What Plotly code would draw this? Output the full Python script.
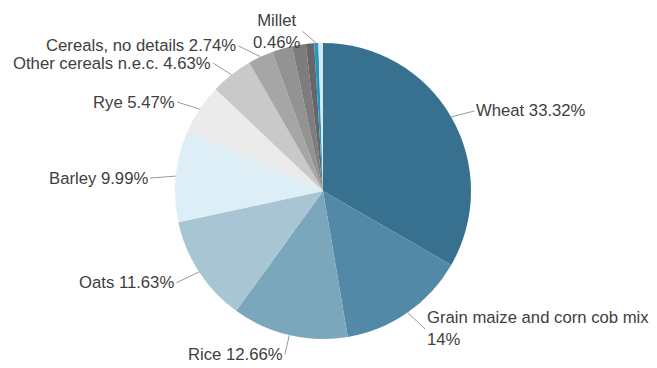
import math
import plotly.graph_objects as go

# slices, clockwise from 12 o'clock
labels = ["Wheat", "Grain maize and corn cob mix", "Rice", "Oats", "Barley", "Rye",
          "Other cereals n.e.c.", "Cereals, no details", "Triticale", "Mixed grain",
          "Sorghum", "Millet", "Buckwheat"]
values = [33.32, 14, 12.66, 11.63, 9.99, 5.47, 4.63, 2.74, 2.2, 1.5, 0.9, 0.46, 0.5]
shown = [True, True, True, True, True, True, True, True, False, False, False, True, False]
colors = ["#37718f", "#5289a6", "#7ba7bd", "#a8c5d4", "#ddeef7", "#ebebeb",
          "#c9c9c9", "#a6a6a6", "#939393", "#7d7d7d", "#666666", "#2596be", "#d6e8f2"]

# the page body has an 8px margin, so the figure is a bit smaller than the window
W, H = 649, 360
ml, mr, mt, mb = 0, 19, 35, 29
pw, ph = W - ml - mr, H - mt - mb
cx, cy = ml + pw / 2, mt + ph / 2
R = min(pw, ph) / 2

fig = go.Figure(go.Pie(
    labels=labels, values=values, sort=False, direction="clockwise", rotation=0,
    marker=dict(colors=colors, line=dict(width=0)),
    textinfo="none", showlegend=False, hoverinfo="label+percent",
))

nudge = {"Cereals, no details": (-8, 3), "Millet": (-7, 4), "Rice": (6, 0)}
total = sum(values)
cum = 0
for lab, v, s in zip(labels, values, shown):
    mid = (cum + v / 2) / total * 2 * math.pi
    cum += v
    if not s:
        continue
    sx, cz = math.sin(mid), math.cos(mid)
    ex, ey = cx + R * sx, cy - R * cz
    tx, ty = cx + (R + 20) * sx, cy - (R + 20) * cz
    tx += 6 if sx > 0 else -6
    if cz > -0.5:
        ty += 4
    dx, dy = nudge.get(lab, (0, 0))
    tx, ty = tx + dx, ty + dy
    pct = f"{v:g}%"
    if lab.startswith("Grain") or lab == "Millet":
        txt = f"{lab}<br>{pct}"
    else:
        txt = f"{lab} {pct}"
    fig.add_annotation(
        x=(ex - ml) / pw, y=(mt + ph - ey) / ph, xref="paper", yref="paper",
        ax=tx - ex, ay=ty - ey, text=txt, showarrow=True, arrowhead=0,
        arrowwidth=1, arrowcolor="#9a9a9a", standoff=0,
        xanchor="left" if sx > 0 else "right", yanchor="middle",
        align="center" if lab == "Millet" else "left",
    )

fig.update_layout(
    width=W, height=H, margin=dict(l=ml, r=mr, t=mt, b=mb),
    paper_bgcolor="white", plot_bgcolor="white",
    font=dict(family="Liberation Sans, Arial, sans-serif", size=16.7, color="#404040"),
)

fig.write_html("out.html")
